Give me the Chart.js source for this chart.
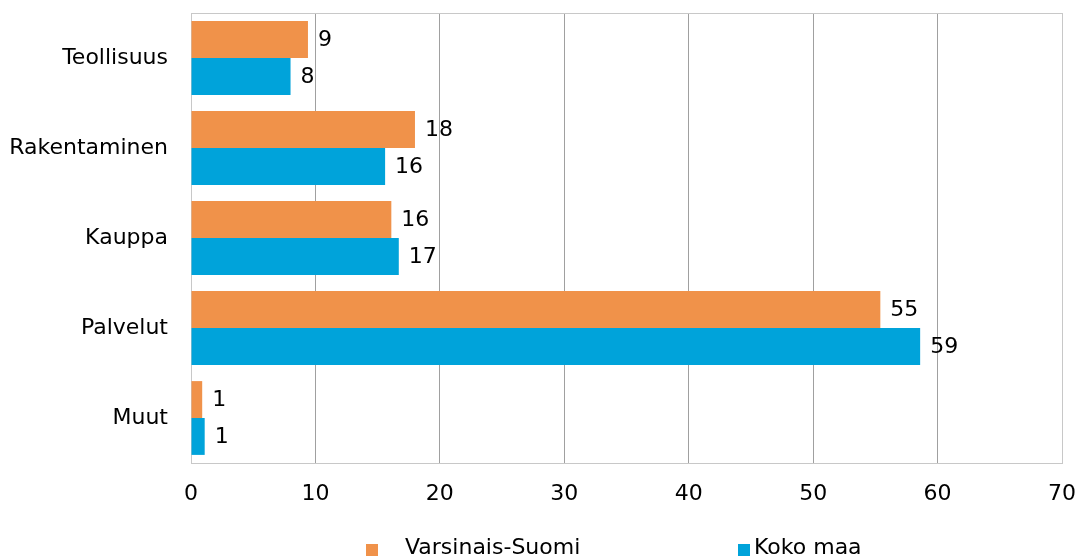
<!DOCTYPE html>
<html>
<head>
<meta charset="utf-8">
<script src="https://cdn.jsdelivr.net/npm/chart.js@4"></script>
<style>
  body { margin: 0; background: #fff; }
  #wrap { position: relative; width: 1077px; height: 559px; }
  .leg { position: absolute; top: 534px; font: 22px "DejaVu Sans", sans-serif; color: #000; white-space: nowrap; }
  .sw { position: absolute; width: 12px; height: 12px; top: 544px; }
</style>
</head>
<body>
<div id="wrap">
  <canvas id="chart"></canvas>
  <div class="sw" style="left:366px;background:#F0924A"></div>
  <div class="leg" style="left:405px">Varsinais-Suomi</div>
  <div class="sw" style="left:738px;background:#00A3DA"></div>
  <div class="leg" style="left:754px">Koko maa</div>
</div>
<script>
// Toimialat ja osuudet (%)
const categories = ['Teollisuus', 'Rakentaminen', 'Kauppa', 'Palvelut', 'Muut'];
const seriesNames = ['Varsinais-Suomi', 'Koko maa'];
const varsinaisSuomi = [9.4, 18.0, 16.1, 55.4, 0.9];
const kokoMaa = [8.0, 15.6, 16.7, 58.6, 1.1];
const xTicks = [0, 10, 20, 30, 40, 50, 60, 70];

const FONT = 'DejaVu Sans';

// arvot palkkien perään
const valueLabels = {
    id: 'valueLabels',
    afterDatasetsDraw(chart) {
        const ctx = chart.ctx;
        ctx.save();
        ctx.font = '22px "' + FONT + '"';
        ctx.fillStyle = '#000';
        ctx.textAlign = 'left';
        ctx.textBaseline = 'middle';
        chart.data.datasets.forEach((ds, i) => {
            chart.getDatasetMeta(i).data.forEach((bar, j) => {
                ctx.fillText(String(Math.round(ds.data[j])), bar.x + 10, bar.y + 1);
            });
        });
        ctx.restore();
    }
};

// kehys kuvaajan ympärille
const frame = {
    id: 'frame',
    beforeDatasetsDraw(chart) {
        const a = chart.chartArea;
        const ctx = chart.ctx;
        ctx.save();
        ctx.strokeStyle = '#C8C8C8';
        ctx.lineWidth = 1;
        ctx.strokeRect(Math.round(a.left) + 0.5, Math.round(a.top) + 0.5, Math.round(a.right - a.left), Math.round(a.bottom - a.top));
        ctx.restore();
    }
};

function noPad(axis) {
    axis.paddingTop = 0;
    axis.paddingBottom = 0;
    axis.paddingLeft = 0;
    axis.paddingRight = 0;
}

new Chart(document.getElementById('chart'), {
    type: 'bar',
    data: {
        labels: categories,
        datasets: [
            { label: seriesNames[0], data: varsinaisSuomi, backgroundColor: '#F0924A', borderWidth: 0 },
            { label: seriesNames[1], data: kokoMaa, backgroundColor: '#00A3DA', borderWidth: 0 }
        ]
    },
    options: {
        indexAxis: 'y',
        responsive: true,
        maintainAspectRatio: false,
        animation: false,
        categoryPercentage: 0.82,
        barPercentage: 1.0,
        layout: { padding: { top: 13, right: 15, left: 0, bottom: 0 } },
        scales: {
            x: {
                min: 0,
                max: 70,
                afterBuildTicks(axis) { axis.ticks = xTicks.map(v => ({ value: v })); },
                afterFit(axis) { axis.height = 96; noPad(axis); },
                border: { display: false },
                grid: {
                    drawTicks: false,
                    color: c => (c.index === 0 || c.index === xTicks.length - 1) ? 'rgba(0,0,0,0)' : '#A0A0A0'
                },
                ticks: { padding: 18, color: '#000', font: { family: FONT, size: 22 } }
            },
            y: {
                afterFit(axis) { axis.width = 191; noPad(axis); },
                border: { display: false },
                grid: { display: false, drawTicks: false },
                ticks: { padding: 23, color: '#000', font: { family: FONT, size: 22 } }
            }
        },
        plugins: {
            legend: { display: false },
            tooltip: { enabled: false }
        }
    },
    plugins: [frame, valueLabels]
});
</script>
</body>
</html>
